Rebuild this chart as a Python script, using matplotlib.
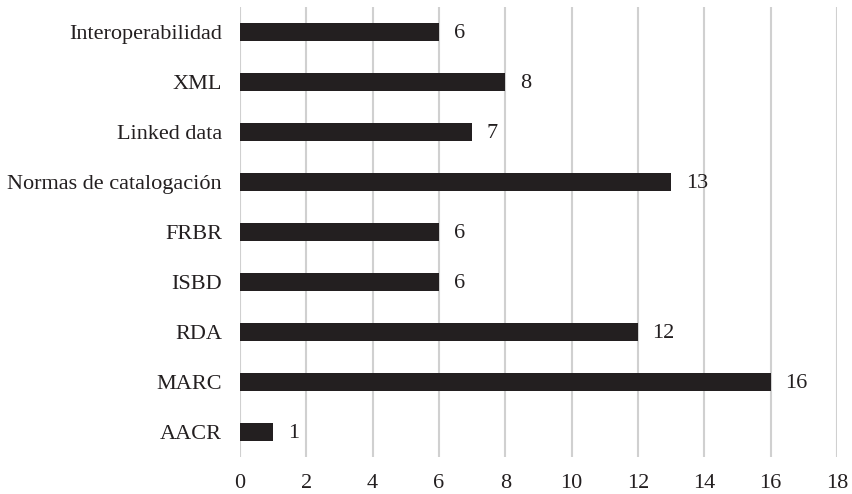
import matplotlib
matplotlib.use("Agg")
import matplotlib.pyplot as plt

categories = ["AACR", "MARC", "RDA", "ISBD", "FRBR",
              "Normas de catalogación", "Linked data", "XML", "Interoperabilidad"]
values = [1, 16, 12, 6, 6, 13, 7, 8, 6]
xticks = [0, 2, 4, 6, 8, 10, 12, 14, 16, 18]

plt.rcParams["font.family"] = ["Liberation Serif", "DejaVu Serif"]

fig = plt.figure(figsize=(8.53, 4.94), dpi=100)
ax = fig.add_axes([0.2814, 0.0749, 0.6998, 0.9109])

pos = list(range(len(categories)))
ax.barh(pos, values, height=0.36, color="#231f20", zorder=3)
for p, v in zip(pos, values):
    ax.annotate(str(v), (v, p), xytext=(10.5, -1), textcoords="offset points",
                va="center", ha="left", fontsize=16, color="#231f20")

ax.set_xlim(0, 18)
ax.set_ylim(-0.5, len(categories) - 0.5)
ax.set_xticks(xticks)
ax.set_yticks(pos)
ax.set_yticklabels(categories)
ax.tick_params(axis="both", length=0, labelsize=16, colors="#231f20")
ax.tick_params(axis="x", pad=12)
ax.tick_params(axis="y", pad=13)
ax.grid(axis="x", color="#d0d0d0", linewidth=1.5, zorder=0)
for s in ax.spines.values():
    s.set_visible(False)

fig.savefig("out.png", dpi=100)
